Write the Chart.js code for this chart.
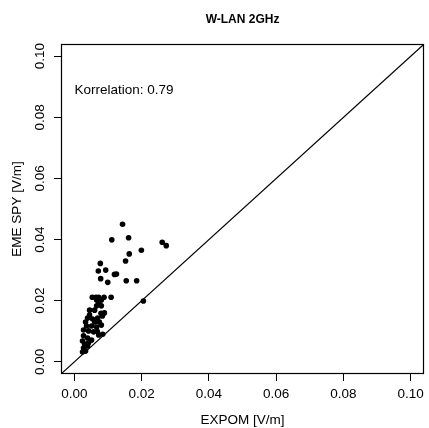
<!DOCTYPE html>
<html>
<head>
<meta charset="utf-8">
<script src="https://cdn.jsdelivr.net/npm/chart.js@4"></script>
<style>
  html, body { margin: 0; padding: 0; background: #fff; }
  #c { display: block; }
</style>
</head>
<body>
<canvas id="c" width="429" height="428"></canvas>
<script>
// ── data ──────────────────────────────────────────
const chartTitle = 'W-LAN 2GHz';
const xTitle = 'EXPOM [V/m]';
const yTitle = 'EME SPY [V/m]';
const corrText = 'Korrelation: 0.79';

const axisLimits = [-0.004, 0.104];
const tickValues = [0, 0.02, 0.04, 0.06, 0.08, 0.10];
const tickLabels = ['0.00', '0.02', '0.04', '0.06', '0.08', '0.10'];

// EXPOM (x) vs EME SPY (y)
const expom = [
  0.0143, 0.0111, 0.0161, 0.0261, 0.0273, 0.0199, 0.0163, 0.0152, 0.0077, 0.0071,
  0.0093, 0.0119, 0.0125, 0.0078, 0.0099, 0.0154, 0.0185, 0.0205,
  0.0053, 0.0064, 0.0072, 0.0088, 0.0109,
  0.0066, 0.0080, 0.0073, 0.0066, 0.0080, 0.0079, 0.0089, 0.0083,
  0.0045, 0.0060, 0.0045, 0.0039, 0.0054, 0.0069, 0.0060, 0.0074, 0.0033,
  0.0036, 0.0051, 0.0066, 0.0080, 0.0027, 0.0042, 0.0057, 0.0072, 0.0084, 0.0068,
  0.0027, 0.0039, 0.0051, 0.0024, 0.0030, 0.0042, 0.0039, 0.0027, 0.0033, 0.0024
];
const emeSpy = [
  0.0450, 0.0399, 0.0406, 0.0391, 0.0380, 0.0365, 0.0353, 0.0330, 0.0322, 0.0297,
  0.0300, 0.0286, 0.0287, 0.0272, 0.0260, 0.0265, 0.0265, 0.0199,
  0.0211, 0.0211, 0.0211, 0.0211, 0.0211,
  0.0202, 0.0202, 0.0192, 0.0183, 0.0183, 0.0159, 0.0160, 0.0150,
  0.0169, 0.0169, 0.0153, 0.0143, 0.0140, 0.0143, 0.0130, 0.0130, 0.0130,
  0.0117, 0.0117, 0.0114, 0.0120, 0.0104, 0.0101, 0.0098, 0.0088, 0.0090, 0.0099,
  0.0085, 0.0078, 0.0071, 0.0068, 0.0058, 0.0062, 0.0052, 0.0045, 0.0035, 0.0032
];

// ── chart ─────────────────────────────────────────
const FONT = "'Liberation Sans', Arial, Helvetica, sans-serif";

const boxAndText = {
  id: 'boxAndText',
  afterDraw(chart) {
    const { ctx, chartArea: a, scales } = chart;
    ctx.save();
    ctx.strokeStyle = '#000';
    ctx.lineWidth = 1.2;
    ctx.strokeRect(Math.round(a.left) + 0.5, Math.round(a.top) + 0.5,
      Math.round(a.right - a.left) - 1, Math.round(a.bottom - a.top) - 1);

    ctx.fillStyle = '#000';
    ctx.font = 'bold 12px ' + FONT;
    ctx.textAlign = 'center';
    ctx.textBaseline = 'middle';
    ctx.fillText(chartTitle, (a.left + a.right) / 2, 20);

    ctx.font = '13.5px ' + FONT;
    ctx.textAlign = 'left';
    ctx.fillText(corrText, scales.x.getPixelForValue(0), scales.y.getPixelForValue(0.089));
    ctx.restore();
  }
};

const points = expom.map((v, i) => ({ x: v, y: emeSpy[i] }));
const diag = axisLimits.map(v => ({ x: v, y: v }));

function fixTicks(scale) {
  scale.ticks = tickValues.map(v => ({ value: v }));
}

new Chart(document.getElementById('c'), {
  type: 'scatter',
  data: {
    datasets: [
      {
        data: points,
        backgroundColor: '#000',
        borderWidth: 0,
        pointRadius: 2.8,
      },
      {
        type: 'line',
        data: diag,
        borderColor: '#000',
        borderWidth: 1.2,
        pointRadius: 0,
        fill: false,
      }
    ]
  },
  options: {
    responsive: false,
    animation: false,
    events: [],
    layout: { padding: { left: 0, top: 44, right: 1, bottom: 0 } },
    plugins: { legend: { display: false }, tooltip: { enabled: false } },
    scales: {
      x: {
        type: 'linear',
        min: axisLimits[0],
        max: axisLimits[1],
        afterBuildTicks: fixTicks,
        afterFit: s => { s.height = 54; },
        border: { display: false },
        grid: { drawOnChartArea: false, drawTicks: true, tickLength: 7, color: '#000', lineWidth: 1 },
        ticks: {
          color: '#000', padding: 5, maxRotation: 0, autoSkip: false,
          font: { family: FONT, size: 13.5 },
          callback: (v, i) => tickLabels[i]
        },
        title: { display: true, text: xTitle, color: '#000', font: { family: FONT, size: 13.5 }, padding: { top: 0, bottom: 0 } }
      },
      y: {
        type: 'linear',
        min: axisLimits[0],
        max: axisLimits[1],
        afterBuildTicks: fixTicks,
        afterFit: s => { s.width = 61; },
        border: { display: false },
        grid: { drawOnChartArea: false, drawTicks: true, tickLength: 7, color: '#000', lineWidth: 1 },
        ticks: {
          color: '#000', padding: 1, minRotation: 90, maxRotation: 90, crossAlign: 'center', autoSkip: false,
          font: { family: FONT, size: 13.5 },
          callback: (v, i) => tickLabels[i]
        },
        title: { display: true, text: yTitle, color: '#000', font: { family: FONT, size: 13.5 }, padding: { top: 9, bottom: 0 } }
      }
    }
  },
  plugins: [boxAndText]
});
</script>
</body>
</html>
